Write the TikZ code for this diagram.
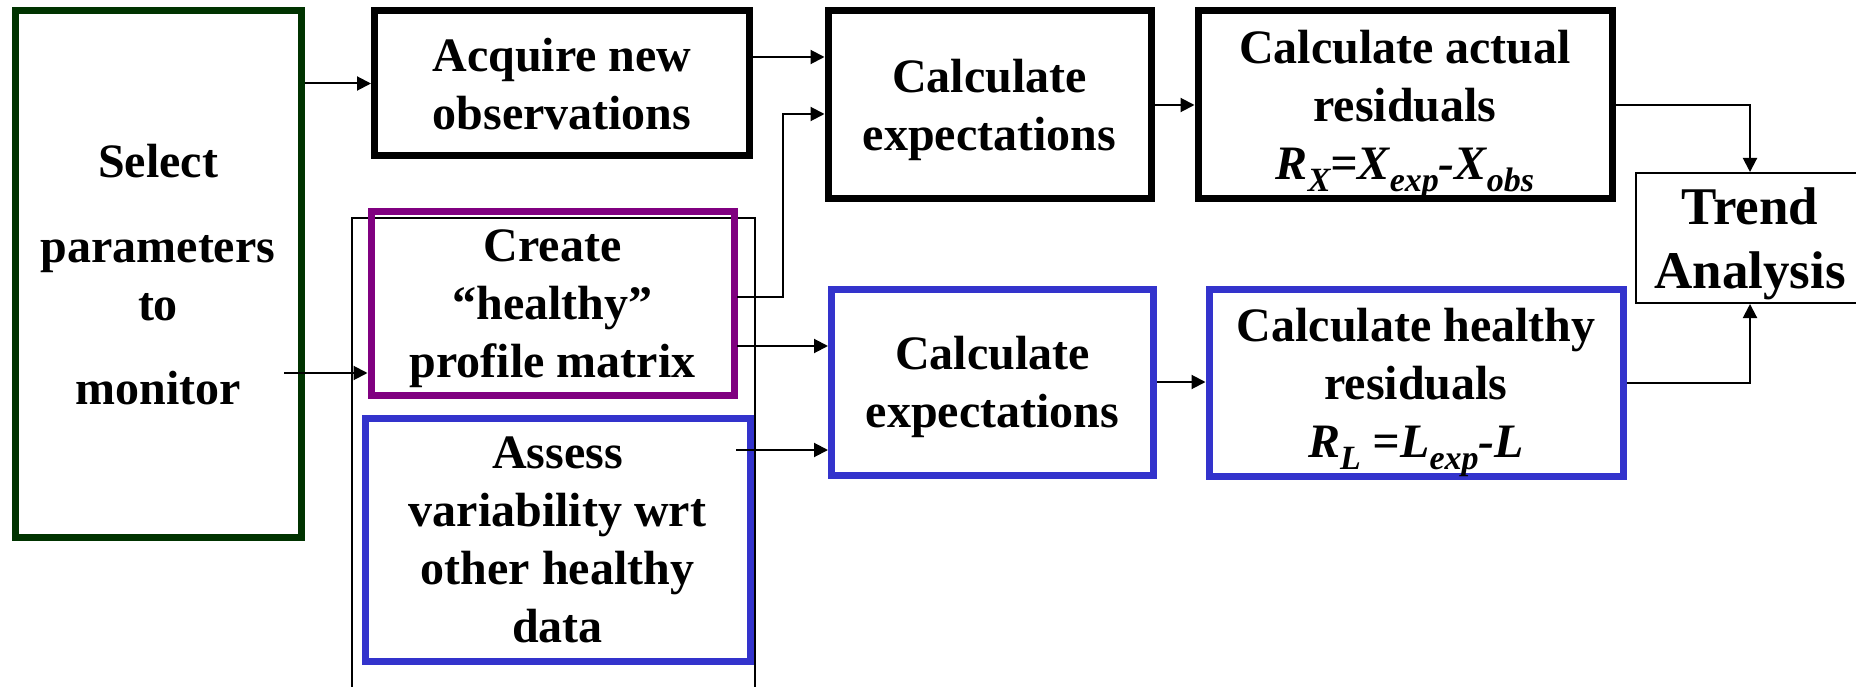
\documentclass[tikz,border=0pt]{standalone}
\usepackage{fontspec}
\setmainfont{Liberation Serif}
\usetikzlibrary{arrows.meta}
\definecolor{darkgreen}{RGB}{0,51,0}
\definecolor{healthypurple}{RGB}{128,0,128}
\definecolor{healthyblue}{RGB}{51,51,204}
\newcommand{\lowidx}[1]{\raisebox{-12pt}[0pt][0pt]{\fontsize{34}{34}\selectfont #1}}
\tikzset{
box/.style={draw, line width=7pt, align=center, inner sep=0pt, text depth=0pt},
thinbox/.style={draw, line width=2pt, align=center, inner sep=0pt, text depth=0pt},
flow/.style={-{Triangle[length=14pt, width=14pt]}, line width=2pt},
}

\begin{document}
\begin{tikzpicture}[x=1pt, y=-1pt, font=\fontsize{48}{58}\selectfont\bfseries]
		\clip (0, 0) rectangle (1856, 687);
		\node [thinbox, minimum width=403, minimum height=542] (5) at (553.5, 489) {};
		\node [box, draw=darkgreen, minimum width=286, minimum height=526] (0) at (158, 274) {Select\\[27pt]parameters\\to\\[26pt]monitor};
		\node [box, minimum width=375, minimum height=145] (1) at (562, 83.5) {Acquire new\\observations};
		\node [box, minimum width=323, minimum height=188] (2) at (989.5, 105) {Calculate\\expectations};
		\node [box, minimum width=414, minimum height=188] (3) at (1405, 105) {Calculate actual\\residuals\\\itshape R\lowidx{X}=X\lowidx{exp}-X\lowidx{obs}};
		\node [thinbox, minimum width=228, minimum height=130, font=\fontsize{53}{64}\selectfont\bfseries] (4) at (1750, 238) {Trend\\Analysis};
		\node [box, draw=healthypurple, minimum width=363, minimum height=183] (6) at (552.5, 303.5) {Create\\“healthy”\\profile matrix};
		\node [box, draw=healthyblue, minimum width=385, minimum height=243] (7) at (557.5, 539.5) {Assess\\variability wrt\\other healthy\\data};
		\node [box, draw=healthyblue, minimum width=322, minimum height=186] (8) at (992.5, 382) {Calculate\\expectations};
		\node [box, draw=healthyblue, minimum width=414, minimum height=187] (9) at (1416, 382.5) {Calculate healthy\\residuals\\\itshape R\lowidx{L} =L\lowidx{exp}-L};
		\coordinate (10) at (284, 373);
		\coordinate (11) at (753, 57);
		\coordinate (12) at (737, 297);
		\coordinate (13) at (783, 114);
		\coordinate (14) at (737, 346);
		\coordinate (15) at (736, 450);
		\draw [flow] (0.east |- 1.west) to (1.west);
		\draw [flow] (10) to (10 -| 6.west);
		\draw [flow] (11) to (11 -| 2.west);
		\draw [flow] (12) -| (13) to (13 -| 2.west);
		\draw [flow] (14) to (14 -| 8.west);
		\draw [flow] (15) to (15 -| 8.west);
		\draw [flow] (2.east) to (3.west);
		\draw [flow] (8.east) to (8.east -| 9.west);
		\draw [flow] (3.east) -| (4.north);
		\draw [flow] (9.east) -| (4.south);
	\end{tikzpicture}
\end{document}
